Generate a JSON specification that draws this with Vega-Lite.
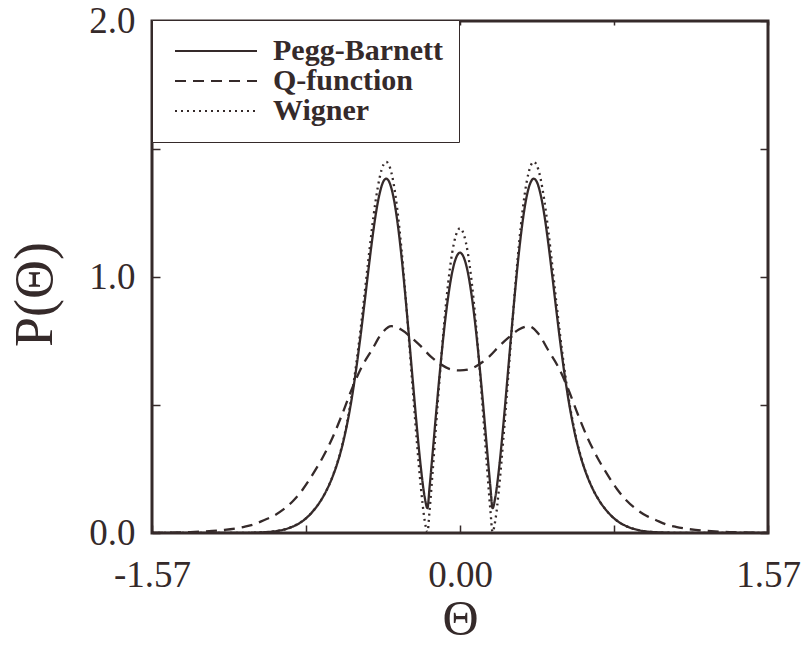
{
  "$schema": "https://vega.github.io/schema/vega-lite/v6.json",
  "width": 616,
  "height": 512,
  "autosize": "none",
  "padding": {"left": 152, "top": 21, "right": 36, "bottom": 113},
  "background": "white",
  "config": {
    "view": {"stroke": "#352a2a", "strokeWidth": 3},
    "axis": {
      "domain": false, "grid": false,
      "tickColor": "#352a2a", "tickWidth": 1.5, "tickSize": -8,
      "labelFont": "Liberation Serif", "labelFontSize": 37, "labelColor": "#352a2a",
      "titleFont": "Liberation Serif", "titleFontSize": 48, "titleFontWeight": "normal", "titleColor": "#352a2a"
    },
    "legend": {
      "strokeColor": "#352a2a", "fillColor": "white", "padding": 16,
      "labelFont": "Liberation Serif", "labelFontSize": 30, "labelFontWeight": "bold", "labelColor": "#352a2a",
      "labelLimit": 400, "symbolType": "M-4.1,0H4.1", "symbolSize": 400, "symbolStrokeWidth": 2,
      "symbolOffset": 33, "labelOffset": 42, "rowPadding": -9
    }
  },
  "data": {"values": [
    {"s":"Pegg-Barnett","t":-1.57,"p":0},{"s":"Pegg-Barnett","t":-1.2,"p":0},{"s":"Pegg-Barnett","t":-1.1,"p":0.0005},{"s":"Pegg-Barnett","t":-1.0,"p":0.003},{"s":"Pegg-Barnett","t":-0.95,"p":0.006},{"s":"Pegg-Barnett","t":-0.9,"p":0.013},{"s":"Pegg-Barnett","t":-0.85,"p":0.026},{"s":"Pegg-Barnett","t":-0.8,"p":0.048},{"s":"Pegg-Barnett","t":-0.77,"p":0.068},{"s":"Pegg-Barnett","t":-0.74,"p":0.094},{"s":"Pegg-Barnett","t":-0.71,"p":0.126},{"s":"Pegg-Barnett","t":-0.68,"p":0.167},{"s":"Pegg-Barnett","t":-0.65,"p":0.219},{"s":"Pegg-Barnett","t":-0.625,"p":0.273},{"s":"Pegg-Barnett","t":-0.6,"p":0.341},{"s":"Pegg-Barnett","t":-0.575,"p":0.427},{"s":"Pegg-Barnett","t":-0.55,"p":0.534},{"s":"Pegg-Barnett","t":-0.53,"p":0.636},{"s":"Pegg-Barnett","t":-0.51,"p":0.751},{"s":"Pegg-Barnett","t":-0.49,"p":0.877},{"s":"Pegg-Barnett","t":-0.47,"p":1.007},{"s":"Pegg-Barnett","t":-0.45,"p":1.132},{"s":"Pegg-Barnett","t":-0.43,"p":1.242},{"s":"Pegg-Barnett","t":-0.41,"p":1.325},{"s":"Pegg-Barnett","t":-0.39,"p":1.374},{"s":"Pegg-Barnett","t":-0.376,"p":1.384},{"s":"Pegg-Barnett","t":-0.36,"p":1.37},{"s":"Pegg-Barnett","t":-0.34,"p":1.315},{"s":"Pegg-Barnett","t":-0.32,"p":1.221},{"s":"Pegg-Barnett","t":-0.3,"p":1.093},{"s":"Pegg-Barnett","t":-0.28,"p":0.938},{"s":"Pegg-Barnett","t":-0.26,"p":0.766},{"s":"Pegg-Barnett","t":-0.24,"p":0.589},{"s":"Pegg-Barnett","t":-0.22,"p":0.415},{"s":"Pegg-Barnett","t":-0.2,"p":0.259},{"s":"Pegg-Barnett","t":-0.18,"p":0.14},{"s":"Pegg-Barnett","t":-0.166,"p":0.097},{"s":"Pegg-Barnett","t":-0.155,"p":0.18},{"s":"Pegg-Barnett","t":-0.14,"p":0.308},{"s":"Pegg-Barnett","t":-0.12,"p":0.484},{"s":"Pegg-Barnett","t":-0.1,"p":0.65},{"s":"Pegg-Barnett","t":-0.08,"p":0.8},{"s":"Pegg-Barnett","t":-0.06,"p":0.924},{"s":"Pegg-Barnett","t":-0.04,"p":1.018},{"s":"Pegg-Barnett","t":-0.02,"p":1.075},
    {"s":"Pegg-Barnett","t":0,"p":1.095},{"s":"Pegg-Barnett","t":0.02,"p":1.075},{"s":"Pegg-Barnett","t":0.04,"p":1.018},{"s":"Pegg-Barnett","t":0.06,"p":0.924},{"s":"Pegg-Barnett","t":0.08,"p":0.8},{"s":"Pegg-Barnett","t":0.1,"p":0.65},{"s":"Pegg-Barnett","t":0.12,"p":0.484},{"s":"Pegg-Barnett","t":0.14,"p":0.308},{"s":"Pegg-Barnett","t":0.155,"p":0.18},{"s":"Pegg-Barnett","t":0.166,"p":0.097},{"s":"Pegg-Barnett","t":0.18,"p":0.14},{"s":"Pegg-Barnett","t":0.2,"p":0.259},{"s":"Pegg-Barnett","t":0.22,"p":0.415},{"s":"Pegg-Barnett","t":0.24,"p":0.589},{"s":"Pegg-Barnett","t":0.26,"p":0.766},{"s":"Pegg-Barnett","t":0.28,"p":0.938},{"s":"Pegg-Barnett","t":0.3,"p":1.093},{"s":"Pegg-Barnett","t":0.32,"p":1.221},{"s":"Pegg-Barnett","t":0.34,"p":1.315},{"s":"Pegg-Barnett","t":0.36,"p":1.37},{"s":"Pegg-Barnett","t":0.376,"p":1.384},{"s":"Pegg-Barnett","t":0.39,"p":1.374},{"s":"Pegg-Barnett","t":0.41,"p":1.325},{"s":"Pegg-Barnett","t":0.43,"p":1.242},{"s":"Pegg-Barnett","t":0.45,"p":1.132},{"s":"Pegg-Barnett","t":0.47,"p":1.007},{"s":"Pegg-Barnett","t":0.49,"p":0.877},{"s":"Pegg-Barnett","t":0.51,"p":0.751},{"s":"Pegg-Barnett","t":0.53,"p":0.636},{"s":"Pegg-Barnett","t":0.55,"p":0.534},{"s":"Pegg-Barnett","t":0.575,"p":0.427},{"s":"Pegg-Barnett","t":0.6,"p":0.341},{"s":"Pegg-Barnett","t":0.625,"p":0.273},{"s":"Pegg-Barnett","t":0.65,"p":0.219},{"s":"Pegg-Barnett","t":0.68,"p":0.167},{"s":"Pegg-Barnett","t":0.71,"p":0.126},{"s":"Pegg-Barnett","t":0.74,"p":0.094},{"s":"Pegg-Barnett","t":0.77,"p":0.068},{"s":"Pegg-Barnett","t":0.8,"p":0.048},{"s":"Pegg-Barnett","t":0.85,"p":0.026},{"s":"Pegg-Barnett","t":0.9,"p":0.013},{"s":"Pegg-Barnett","t":0.95,"p":0.006},{"s":"Pegg-Barnett","t":1.0,"p":0.003},{"s":"Pegg-Barnett","t":1.1,"p":0.0005},{"s":"Pegg-Barnett","t":1.2,"p":0},{"s":"Pegg-Barnett","t":1.57,"p":0},

    {"s":"Wigner","t":-1.57,"p":0},{"s":"Wigner","t":-1.2,"p":0},{"s":"Wigner","t":-1.1,"p":0.0005},{"s":"Wigner","t":-1.0,"p":0.003},{"s":"Wigner","t":-0.95,"p":0.006},{"s":"Wigner","t":-0.9,"p":0.013},{"s":"Wigner","t":-0.85,"p":0.026},{"s":"Wigner","t":-0.8,"p":0.048},{"s":"Wigner","t":-0.77,"p":0.068},{"s":"Wigner","t":-0.74,"p":0.094},{"s":"Wigner","t":-0.71,"p":0.126},{"s":"Wigner","t":-0.68,"p":0.167},{"s":"Wigner","t":-0.65,"p":0.22},{"s":"Wigner","t":-0.625,"p":0.275},{"s":"Wigner","t":-0.6,"p":0.345},{"s":"Wigner","t":-0.575,"p":0.434},{"s":"Wigner","t":-0.55,"p":0.546},{"s":"Wigner","t":-0.53,"p":0.654},{"s":"Wigner","t":-0.51,"p":0.775},{"s":"Wigner","t":-0.49,"p":0.909},{"s":"Wigner","t":-0.47,"p":1.047},{"s":"Wigner","t":-0.45,"p":1.181},{"s":"Wigner","t":-0.43,"p":1.298},{"s":"Wigner","t":-0.41,"p":1.387},{"s":"Wigner","t":-0.39,"p":1.439},{"s":"Wigner","t":-0.376,"p":1.45},{"s":"Wigner","t":-0.36,"p":1.434},{"s":"Wigner","t":-0.34,"p":1.372},{"s":"Wigner","t":-0.32,"p":1.266},{"s":"Wigner","t":-0.3,"p":1.122},{"s":"Wigner","t":-0.28,"p":0.948},{"s":"Wigner","t":-0.26,"p":0.754},{"s":"Wigner","t":-0.24,"p":0.554},{"s":"Wigner","t":-0.22,"p":0.358},{"s":"Wigner","t":-0.2,"p":0.183},{"s":"Wigner","t":-0.18,"p":0.049},{"s":"Wigner","t":-0.166,"p":0.004},{"s":"Wigner","t":-0.155,"p":0.088},{"s":"Wigner","t":-0.14,"p":0.234},{"s":"Wigner","t":-0.12,"p":0.442},{"s":"Wigner","t":-0.1,"p":0.642},{"s":"Wigner","t":-0.08,"p":0.825},{"s":"Wigner","t":-0.06,"p":0.978},{"s":"Wigner","t":-0.04,"p":1.094},{"s":"Wigner","t":-0.02,"p":1.165},
    {"s":"Wigner","t":0,"p":1.19},{"s":"Wigner","t":0.02,"p":1.165},{"s":"Wigner","t":0.04,"p":1.094},{"s":"Wigner","t":0.06,"p":0.978},{"s":"Wigner","t":0.08,"p":0.825},{"s":"Wigner","t":0.1,"p":0.642},{"s":"Wigner","t":0.12,"p":0.442},{"s":"Wigner","t":0.14,"p":0.234},{"s":"Wigner","t":0.155,"p":0.088},{"s":"Wigner","t":0.166,"p":0.004},{"s":"Wigner","t":0.18,"p":0.049},{"s":"Wigner","t":0.2,"p":0.183},{"s":"Wigner","t":0.22,"p":0.358},{"s":"Wigner","t":0.24,"p":0.554},{"s":"Wigner","t":0.26,"p":0.754},{"s":"Wigner","t":0.28,"p":0.948},{"s":"Wigner","t":0.3,"p":1.122},{"s":"Wigner","t":0.32,"p":1.266},{"s":"Wigner","t":0.34,"p":1.372},{"s":"Wigner","t":0.36,"p":1.434},{"s":"Wigner","t":0.376,"p":1.45},{"s":"Wigner","t":0.39,"p":1.439},{"s":"Wigner","t":0.41,"p":1.387},{"s":"Wigner","t":0.43,"p":1.298},{"s":"Wigner","t":0.45,"p":1.181},{"s":"Wigner","t":0.47,"p":1.047},{"s":"Wigner","t":0.49,"p":0.909},{"s":"Wigner","t":0.51,"p":0.775},{"s":"Wigner","t":0.53,"p":0.654},{"s":"Wigner","t":0.55,"p":0.546},{"s":"Wigner","t":0.575,"p":0.434},{"s":"Wigner","t":0.6,"p":0.345},{"s":"Wigner","t":0.625,"p":0.275},{"s":"Wigner","t":0.65,"p":0.22},{"s":"Wigner","t":0.68,"p":0.167},{"s":"Wigner","t":0.71,"p":0.126},{"s":"Wigner","t":0.74,"p":0.094},{"s":"Wigner","t":0.77,"p":0.068},{"s":"Wigner","t":0.8,"p":0.048},{"s":"Wigner","t":0.85,"p":0.026},{"s":"Wigner","t":0.9,"p":0.013},{"s":"Wigner","t":0.95,"p":0.006},{"s":"Wigner","t":1.0,"p":0.003},{"s":"Wigner","t":1.1,"p":0.0005},{"s":"Wigner","t":1.2,"p":0},{"s":"Wigner","t":1.57,"p":0},

    {"s":"Q-function","t":-1.57,"p":0},{"s":"Q-function","t":-1.5,"p":0.001},{"s":"Q-function","t":-1.4,"p":0.003},{"s":"Q-function","t":-1.3,"p":0.006},{"s":"Q-function","t":-1.2,"p":0.012},{"s":"Q-function","t":-1.1,"p":0.024},{"s":"Q-function","t":-1.05,"p":0.034},{"s":"Q-function","t":-1.0,"p":0.05},{"s":"Q-function","t":-0.95,"p":0.067},{"s":"Q-function","t":-0.9,"p":0.092},{"s":"Q-function","t":-0.85,"p":0.126},{"s":"Q-function","t":-0.8,"p":0.172},{"s":"Q-function","t":-0.75,"p":0.23},{"s":"Q-function","t":-0.7,"p":0.295},{"s":"Q-function","t":-0.65,"p":0.372},{"s":"Q-function","t":-0.6,"p":0.465},{"s":"Q-function","t":-0.55,"p":0.565},{"s":"Q-function","t":-0.5,"p":0.65},{"s":"Q-function","t":-0.45,"p":0.714},{"s":"Q-function","t":-0.4,"p":0.778},{"s":"Q-function","t":-0.35,"p":0.808},{"s":"Q-function","t":-0.3,"p":0.795},{"s":"Q-function","t":-0.25,"p":0.765},{"s":"Q-function","t":-0.2,"p":0.73},{"s":"Q-function","t":-0.15,"p":0.69},{"s":"Q-function","t":-0.1,"p":0.66},{"s":"Q-function","t":-0.05,"p":0.64},
    {"s":"Q-function","t":0,"p":0.635},{"s":"Q-function","t":0.05,"p":0.64},{"s":"Q-function","t":0.1,"p":0.66},{"s":"Q-function","t":0.15,"p":0.69},{"s":"Q-function","t":0.2,"p":0.73},{"s":"Q-function","t":0.25,"p":0.765},{"s":"Q-function","t":0.3,"p":0.795},{"s":"Q-function","t":0.35,"p":0.808},{"s":"Q-function","t":0.4,"p":0.778},{"s":"Q-function","t":0.45,"p":0.714},{"s":"Q-function","t":0.5,"p":0.65},{"s":"Q-function","t":0.55,"p":0.565},{"s":"Q-function","t":0.6,"p":0.465},{"s":"Q-function","t":0.65,"p":0.372},{"s":"Q-function","t":0.7,"p":0.295},{"s":"Q-function","t":0.75,"p":0.23},{"s":"Q-function","t":0.8,"p":0.172},{"s":"Q-function","t":0.85,"p":0.126},{"s":"Q-function","t":0.9,"p":0.092},{"s":"Q-function","t":0.95,"p":0.067},{"s":"Q-function","t":1.0,"p":0.05},{"s":"Q-function","t":1.05,"p":0.034},{"s":"Q-function","t":1.1,"p":0.024},{"s":"Q-function","t":1.2,"p":0.012},{"s":"Q-function","t":1.3,"p":0.006},{"s":"Q-function","t":1.4,"p":0.003},{"s":"Q-function","t":1.5,"p":0.001},{"s":"Q-function","t":1.57,"p":0}
  ]},
  "layer": [
    {
      "mark": {"type": "line", "strokeWidth": 2.3, "interpolate": "monotone", "clip": true},
      "encoding": {
        "x": {"field": "t", "type": "quantitative",
              "scale": {"domain": [-1.57, 1.57], "nice": false, "zero": false},
              "axis": {"orient": "bottom", "title": "Θ", "values": [-1.57, -0.785, 0, 0.785, 1.57],
                       "labelExpr": "datum.value < -1 ? '-1.57' : datum.value > 1 ? '1.57' : abs(datum.value) < 0.1 ? '0.00' : ''",
                       "labelPadding": 32, "labelFlush": false, "labelOverlap": false,
                       "titleBaseline": "alphabetic", "titleY": 101, "titleFontSize": 50}},
        "y": {"field": "p", "type": "quantitative",
              "scale": {"domain": [0, 2], "nice": false},
              "axis": {"orient": "left", "title": "P(Θ)", "values": [0, 0.5, 1, 1.5, 2],
                       "labelExpr": "datum.value == 0.5 || datum.value == 1.5 ? '' : format(datum.value, '.1f')",
                       "labelPadding": 25, "labelOverlap": false, "labelFlush": false,
                       "titleBaseline": "alphabetic", "titleAngle": -90, "titleX": -101, "titleY": 273, "titleFontSize": 54}},
        "color": {"field": "s", "type": "nominal",
                  "scale": {"domain": ["Pegg-Barnett", "Q-function", "Wigner"], "range": ["#352a2a", "#352a2a", "#352a2a"]},
                  "legend": {"title": null, "orient": "none", "legendX": 0, "legendY": -1}},
        "strokeDash": {"field": "s", "type": "nominal",
                  "scale": {"domain": ["Pegg-Barnett", "Q-function", "Wigner"], "range": [[1, 0], [11, 7], [2, 4]]},
                  "legend": {"title": null, "orient": "none", "legendX": 0, "legendY": -1}}
      }
    },
    {
      "mark": {"type": "line", "opacity": 0},
      "encoding": {
        "x": {"field": "t", "type": "quantitative",
              "axis": {"orient": "top", "title": null, "labels": false, "tickSize": -4, "values": [-1.57, -0.785, 0, 0.785, 1.57]}},
        "y": {"field": "p", "type": "quantitative",
              "axis": {"orient": "right", "title": null, "labels": false, "values": [0, 0.5, 1, 1.5, 2]}},
        "detail": {"field": "s", "type": "nominal"}
      }
    }
  ],
  "resolve": {"axis": {"x": "independent", "y": "independent"}}
}
